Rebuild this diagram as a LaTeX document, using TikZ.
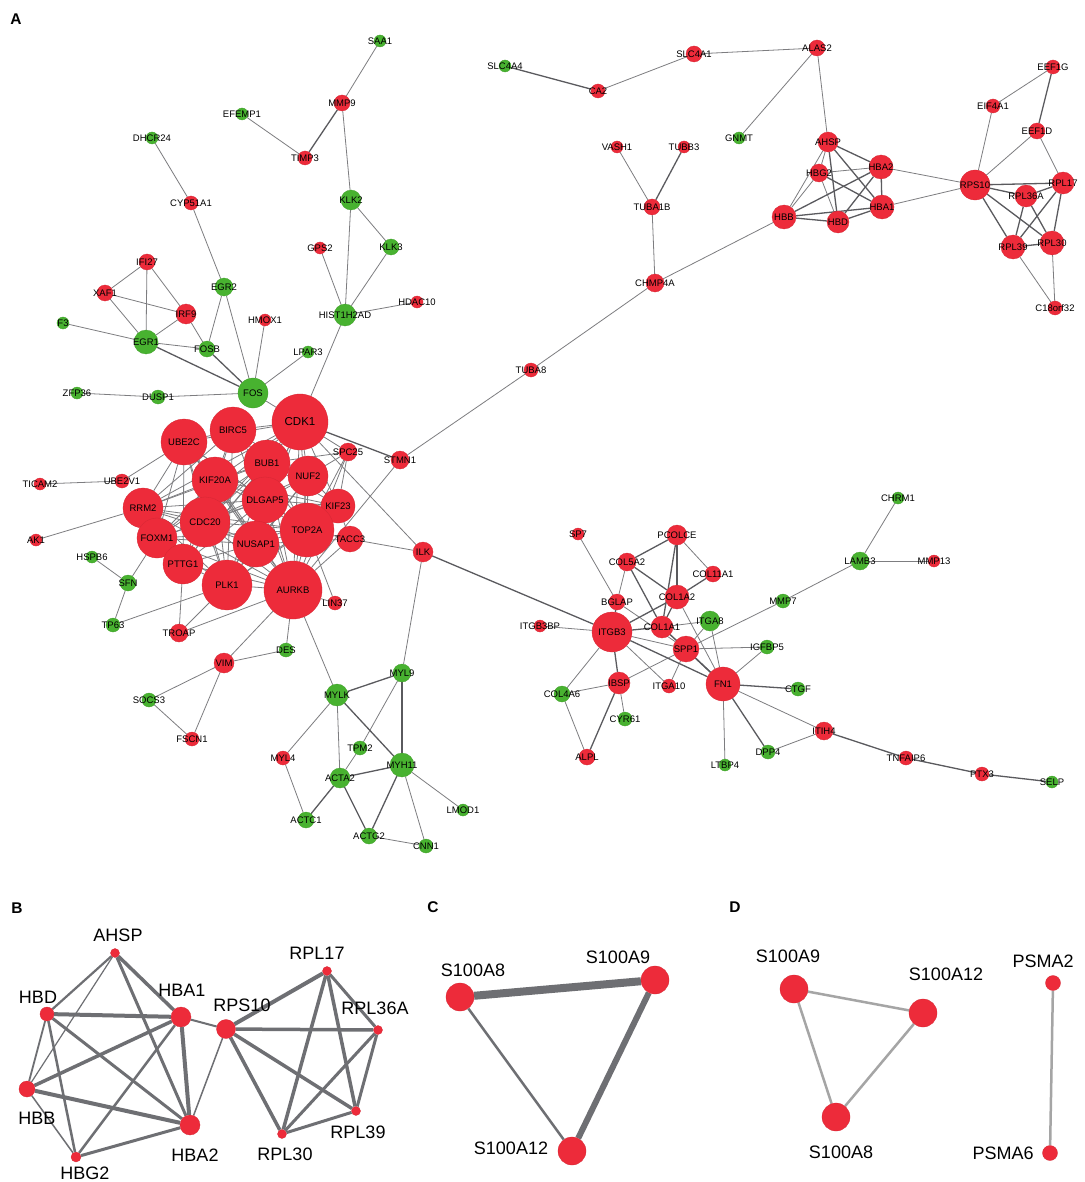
\documentclass[tikz,border=0pt]{standalone}
\usepackage{fontspec}
\setmainfont{Liberation Sans}
\usetikzlibrary{backgrounds}
\definecolor{upred}{RGB}{237,43,58}
\definecolor{dngreen}{RGB}{72,178,48}
\definecolor{edgegray}{RGB}{125,125,128}
\definecolor{edgedark}{RGB}{90,90,94}
\definecolor{bgray}{RGB}{110,111,115}
\definecolor{dgray}{RGB}{165,165,165}
% gene node: (name)(x,y)(radius)
\def\gup(#1)(#2)(#3){\node[upgene, minimum size=#3*2pt, label={[lbl]center:#1}] (#1) at (#2) {};}
\def\gdn(#1)(#2)(#3){\node[dngene, minimum size=#3*2pt, label={[lbl]center:#1}] (#1) at (#2) {};}

\begin{document}
\begin{tikzpicture}[x=1pt, y=-1pt,
  upgene/.style={circle, fill=upred, draw=upred!90!black, line width=0.3pt, inner sep=0pt},
  dngene/.style={circle, fill=dngreen, draw=dngreen!90!black, line width=0.3pt, inner sep=0pt},
  lbl/.style={font=\fontsize{9.5}{10}\selectfont, inner sep=0pt},
  biglbl/.style={font=\fontsize{18}{20}\selectfont, inner sep=0pt},
  panel/.style={font=\bfseries\fontsize{15.5}{16}\selectfont, inner sep=0pt},
  ppi/.style={draw=edgegray, line width=0.8pt},
  ppistrong/.style={draw=edgedark, line width=1.3pt},
  bedge/.style={draw=bgray},
  dedge/.style={draw=dgray, line width=2.5pt}]
\useasboundingbox (0,0) rectangle (1084,1182);

% panel letters
\node[panel] (pA) at (16,19) {A};
\node[panel] (pB) at (17,908) {B};
\node[panel] (pC) at (433,907) {C};
\node[panel] (pD) at (735,907) {D};

% ---- A: up-regulated genes
\gup(MMP9)(342,103)(8)
\gup(TIMP3)(305,158)(7)
\gup(CYP51A1)(191,203)(7)
\gup(GPS2)(320,248)(6)
\gup(IFI27)(147,262)(8)
\gup(XAF1)(105,293)(8)
\gup(IRF9)(186,314)(10)
\gup(HMOX1)(265,320)(6)
\gup(HDAC10)(417,302)(6)
\gup(CA2)(598,91)(7)
\gup(SLC4A1)(694,54)(8)
\gup(VASH1)(617,147)(6)
\gup(TUBB3)(684,147)(6)
\gup(TUBA1B)(652,207)(8)
\gup(CHMP4A)(655,283)(9)
\gup(ALAS2)(817,48)(8)
\gup(EEF1G)(1053,67)(7)
\gup(EIF4A1)(993,106)(7)
\gup(EEF1D)(1037,131)(8)
\gup(AHSP)(828,142)(10)
\gup(HBG2)(819,173)(9)
\gup(HBA2)(881,167)(12)
\gup(HBA1)(882,207)(12)
\gup(HBB)(784,217)(12)
\gup(HBD)(838,222)(11)
\gup(RPS10)(975,185)(15)
\gup(RPL17)(1063,183)(11)
\gup(RPL36A)(1026,196)(11)
\gup(RPL39)(1013,247)(12)
\gup(RPL30)(1052,243)(12)
\gup(C18orf32)(1055,308)(7)
\gup(TUBA8)(531,370)(7)
\gup(SPC25)(348,452)(9)
\gup(STMN1)(400,460)(9)
\gup(TICAM2)(40,484)(6)
\gup(UBE2V1)(122,481)(7)
\gup(AK1)(36,540)(6)
\gup(TACC3)(350,539)(13)
\gup(ILK)(423,552)(10)
\gup(LIN37)(335,603)(7)
\gup(TROAP)(179,633)(9)
\gup(VIM)(224,663)(10)
\gup(FSCN1)(192,739)(7)
\gup(MYL4)(283,758)(7)
\gup(KIF23)(338,506)(17)
\gup(NUF2)(308,476)(20)
\gup(RRM2)(143,508)(20)
\gup(FOXM1)(157,538)(20)
\gup(PTTG1)(183,564)(20)
\gup(UBE2C)(184,442)(23)
\gup(BIRC5)(233,430)(23)
\gup(KIF20A)(215,480)(23)
\gup(CDC20)(205,522)(25)
\gup(BUB1)(267,463)(23)
\node[upgene, minimum size=56pt, label={[lbl, font=\fontsize{11.5}{12}\selectfont]center:CDK1}] (CDK1) at (300,422) {};
\gup(DLGAP5)(265,500)(23)
\gup(TOP2A)(307,530)(27)
\gup(NUSAP1)(256,544)(23)
\gup(PLK1)(227,585)(25)
\gup(AURKB)(293,590)(29)
\gup(SP7)(578,534)(6)
\gup(PCOLCE)(677,535)(10)
\gup(MMP13)(934,561)(6)
\gup(COL5A2)(627,562)(9)
\gup(COL11A1)(713,574)(8)
\gup(COL1A2)(677,597)(12)
\gup(BGLAP)(617,602)(8)
\gup(ITGB3BP)(540,626)(6)
\gup(ITGB3)(612,632)(20)
\gup(COL1A1)(662,627)(11)
\gup(SPP1)(686,649)(13)
\gup(IBSP)(619,683)(11)
\gup(ITGA10)(669,686)(7)
\gup(FN1)(723,684)(17)
\gup(ITIH4)(824,731)(9)
\gup(ALPL)(587,757)(8)
\gup(TNFAIP6)(906,758)(7)
\gup(PTX3)(982,774)(7)

% ---- A: down-regulated genes
\gdn(SAA1)(380,41)(6)
\gdn(EFEMP1)(242,114)(6)
\gdn(DHCR24)(152,138)(6)
\gdn(KLK2)(351,200)(10)
\gdn(KLK3)(391,247)(8)
\gdn(EGR2)(224,287)(9)
\gdn(HIST1H2AD)(345,315)(11)
\gdn(F3)(63,323)(6)
\gdn(SLC4A4)(505,66)(6)
\gdn(GNMT)(739,138)(6)
\gdn(EGR1)(146,342)(12)
\gdn(FOSB)(207,349)(8)
\gdn(LPAR3)(308,352)(6)
\gdn(FOS)(253,393)(15)
\gdn(ZFP36)(77,393)(6)
\gdn(DUSP1)(158,397)(7)
\gdn(HSPB6)(92,557)(6)
\gdn(SFN)(128,583)(8)
\gdn(TP63)(113,625)(7)
\gdn(DES)(286,650)(7)
\gdn(MYL9)(402,673)(9)
\gdn(MYLK)(337,695)(11)
\gdn(SOCS3)(149,700)(7)
\gdn(TPM2)(360,748)(7)
\gdn(MYH11)(402,765)(12)
\gdn(ACTA2)(340,778)(10)
\gdn(LMOD1)(463,810)(6)
\gdn(ACTC1)(306,820)(8)
\gdn(ACTG2)(369,836)(8)
\gdn(CNN1)(426,846)(7)
\gdn(CHRM1)(898,498)(6)
\gdn(LAMB3)(860,561)(9)
\gdn(MMP7)(783,601)(7)
\gdn(ITGA8)(710,621)(10)
\gdn(IGFBP5)(767,647)(7)
\gdn(CTGF)(798,689)(7)
\gdn(COL4A6)(562,694)(8)
\gdn(CYR61)(625,719)(7)
\gdn(DPP4)(768,752)(7)
\gdn(LTBP4)(725,765)(6)
\gdn(SELP)(1052,782)(6)

% ---- B
\node[upgene, minimum size=9pt] (bAHSP) at (115,953) {};
\node[upgene, minimum size=14pt] (bHBD) at (47,1014) {};
\node[upgene, minimum size=20pt] (bHBA1) at (181,1017) {};
\node[upgene, minimum size=19pt] (bRPS10) at (226,1029) {};
\node[upgene, minimum size=9pt] (bRPL17) at (327,971) {};
\node[upgene, minimum size=9pt] (bRPL36A) at (378,1030) {};
\node[upgene, minimum size=16pt] (bHBB) at (27,1089) {};
\node[upgene, minimum size=20pt] (bHBA2) at (190,1125) {};
\node[upgene, minimum size=10pt] (bHBG2) at (76,1157) {};
\node[upgene, minimum size=9pt] (bRPL30) at (282,1134) {};
\node[upgene, minimum size=9pt] (bRPL39) at (356,1111) {};
\node[biglbl] (tAHSP) at (118,935) {AHSP};
\node[biglbl] (tHBD) at (38,997) {HBD};
\node[biglbl] (tHBA1) at (182,990) {HBA1};
\node[biglbl] (tRPS10) at (242,1005) {RPS10};
\node[biglbl] (tRPL17) at (317,953) {RPL17};
\node[biglbl] (tRPL36A) at (375,1008) {RPL36A};
\node[biglbl] (tHBB) at (37,1118) {HBB};
\node[biglbl] (tHBA2) at (195,1155) {HBA2};
\node[biglbl] (tHBG2) at (85,1173) {HBG2};
\node[biglbl] (tRPL30) at (285,1154) {RPL30};
\node[biglbl] (tRPL39) at (358,1132) {RPL39};

% ---- C
\node[upgene, minimum size=28pt] (cS100A8) at (460,997) {};
\node[upgene, minimum size=28pt] (cS100A9) at (655,980) {};
\node[upgene, minimum size=28pt] (cS100A12) at (572,1151) {};
\node[biglbl] (tcS100A8) at (473,970) {S100A8};
\node[biglbl] (tcS100A9) at (618,957) {S100A9};
\node[biglbl] (tcS100A12) at (511,1148) {S100A12};

% ---- D
\node[upgene, minimum size=28pt] (dS100A9) at (794,989) {};
\node[upgene, minimum size=28pt] (dS100A12) at (923,1013) {};
\node[upgene, minimum size=28pt] (dS100A8) at (836,1117) {};
\node[upgene, minimum size=15pt] (dPSMA2) at (1053,983) {};
\node[upgene, minimum size=15pt] (dPSMA6) at (1050,1153) {};
\node[biglbl] (tdS100A9) at (788,956) {S100A9};
\node[biglbl] (tdS100A12) at (946,974) {S100A12};
\node[biglbl] (tdS100A8) at (841,1152) {S100A8};
\node[biglbl] (tdPSMA2) at (1043,961) {PSMA2};
\node[biglbl] (tdPSMA6) at (1003,1153) {PSMA6};

\begin{scope}[on background layer]
\fill[white] (0,0) rectangle (1084,1182);
% A: interactions
\foreach \a/\b in {SAA1/MMP9, MMP9/KLK2, EFEMP1/TIMP3, DHCR24/CYP51A1, CYP51A1/EGR2,
  KLK2/KLK3, KLK2/HIST1H2AD, KLK3/HIST1H2AD, GPS2/HIST1H2AD, HDAC10/HIST1H2AD,
  HIST1H2AD/CDK1, IFI27/XAF1, IFI27/IRF9, IFI27/EGR1, XAF1/IRF9, XAF1/EGR1,
  IRF9/EGR1, IRF9/FOSB, F3/EGR1, EGR1/FOSB, EGR2/FOSB, EGR2/FOS, HMOX1/FOS,
  LPAR3/FOS, ZFP36/DUSP1, DUSP1/FOS, FOS/CDK1, UBE2V1/TICAM2, UBE2V1/UBE2C,
  AK1/RRM2, HSPB6/SFN, SFN/FOXM1, SFN/TP63, TP63/PLK1, TROAP/PTTG1, TROAP/PLK1,
  TROAP/AURKB, VIM/AURKB, VIM/DES, VIM/SOCS3, VIM/FSCN1, SOCS3/FSCN1, DES/AURKB,
  AURKB/MYLK, AURKB/LIN37, TOP2A/LIN37, AURKB/STMN1, TACC3/ILK, CDK1/ILK,
  ILK/MYL9, STMN1/TUBA8, TUBA8/CHMP4A, CHMP4A/TUBA1B, TUBA1B/VASH1, CHMP4A/HBB,
  CA2/SLC4A1, SLC4A1/ALAS2, ALAS2/GNMT, ALAS2/AHSP, HBA2/RPS10, HBA1/RPS10,
  RPS10/EIF4A1, RPS10/EEF1D, EIF4A1/EEF1G, EEF1D/RPL17, RPL39/C18orf32,
  RPL30/C18orf32, SP7/BGLAP, BGLAP/SPP1, COL5A2/BGLAP, PCOLCE/COL11A1,
  ITGB3BP/ITGB3, ITGB3/COL4A6, ITGB3/ITGA10, SPP1/ITGA10, SPP1/IBSP, SPP1/IGFBP5,
  IBSP/COL4A6, IBSP/CYR61, COL4A6/ALPL, FN1/IGFBP5, FN1/ITIH4, FN1/LTBP4,
  MMP7/LAMB3, LAMB3/CHRM1, LAMB3/MMP13, ITIH4/DPP4, SPP1/MMP7, COL1A2/FN1,
  COL1A1/ITGA8, ITGA8/SPP1, ITGA8/FN1, ITGB3/SPP1, COL1A1/SPP1,
  AHSP/HBG2, AHSP/HBB, HBG2/HBB, HBG2/HBD, HBG2/HBA2,
  MYL9/TPM2, MYLK/MYL4, MYLK/ACTA2, TPM2/ACTA2, MYL4/ACTC1, MYH11/CNN1,
  MYH11/LMOD1, ACTG2/CNN1}
  \draw[ppi] (\a) -- (\b);
\foreach \a/\b in {MMP9/TIMP3, SLC4A4/CA2, TUBA1B/TUBB3, EEF1G/EEF1D, EGR1/FOS,
  FOSB/FOS, CDK1/STMN1, ILK/ITGB3, MYL9/MYLK, MYL9/MYH11, MYLK/MYH11,
  ITIH4/TNFAIP6, TNFAIP6/PTX3, PTX3/SELP, COL1A2/ITGB3, ITGB3/IBSP, FN1/CTGF,
  FN1/DPP4, IBSP/ALPL, ITGB3/FN1, COL1A1/ITGB3, PCOLCE/COL5A2, PCOLCE/COL1A2,
  PCOLCE/COL1A1, COL5A2/COL1A2, COL5A2/COL1A1, COL11A1/COL1A2, COL1A2/COL1A1,
  BGLAP/ITGB3, SPP1/FN1, COL1A1/FN1, ACTA2/MYH11, ACTA2/ACTC1, ACTA2/ACTG2,
  MYH11/ACTG2,
  AHSP/HBA2, AHSP/HBA1, AHSP/HBD, HBG2/HBA1, HBA2/HBA1, HBA2/HBB, HBA2/HBD,
  HBA1/HBB, HBA1/HBD, HBB/HBD,
  RPS10/RPL17, RPS10/RPL36A, RPS10/RPL39, RPS10/RPL30, RPL17/RPL36A, RPL17/RPL39,
  RPL17/RPL30, RPL36A/RPL39, RPL36A/RPL30, RPL39/RPL30}
  \draw[ppistrong] (\a) -- (\b);
% A: mitotic core
\foreach \a/\b in {CDK1/BIRC5, CDK1/BUB1, CDK1/NUF2, CDK1/UBE2C, CDK1/KIF20A,
  CDK1/DLGAP5, CDK1/CDC20, CDK1/TOP2A, CDK1/NUSAP1, CDK1/PLK1, CDK1/AURKB,
  CDK1/RRM2, CDK1/FOXM1, CDK1/PTTG1, CDK1/KIF23, CDK1/SPC25,
  BIRC5/UBE2C, BIRC5/BUB1, BIRC5/KIF20A, BIRC5/CDC20, BIRC5/AURKB, BIRC5/PLK1,
  BIRC5/TOP2A, BIRC5/RRM2, BIRC5/NUF2,
  UBE2C/KIF20A, UBE2C/RRM2, UBE2C/CDC20, UBE2C/FOXM1, UBE2C/PTTG1, UBE2C/PLK1,
  UBE2C/AURKB, UBE2C/TOP2A, UBE2C/DLGAP5, UBE2C/NUSAP1,
  BUB1/NUF2, BUB1/DLGAP5, BUB1/CDC20, BUB1/KIF20A, BUB1/PLK1, BUB1/AURKB,
  BUB1/TOP2A, BUB1/SPC25, BUB1/KIF23, BUB1/NUSAP1, BUB1/RRM2, BUB1/FOXM1,
  BUB1/PTTG1,
  NUF2/DLGAP5, NUF2/KIF23, NUF2/SPC25, NUF2/TOP2A, NUF2/AURKB, NUF2/CDC20,
  NUF2/NUSAP1, NUF2/PLK1,
  KIF20A/CDC20, KIF20A/DLGAP5, KIF20A/RRM2, KIF20A/FOXM1, KIF20A/NUSAP1,
  KIF20A/PLK1, KIF20A/AURKB, KIF20A/TOP2A, KIF20A/KIF23, KIF20A/PTTG1,
  DLGAP5/CDC20, DLGAP5/TOP2A, DLGAP5/NUSAP1, DLGAP5/KIF23, DLGAP5/AURKB,
  DLGAP5/PLK1, DLGAP5/RRM2, DLGAP5/FOXM1, DLGAP5/PTTG1,
  KIF23/TOP2A, KIF23/AURKB, KIF23/TACC3, KIF23/PLK1, KIF23/NUSAP1,
  RRM2/CDC20, RRM2/FOXM1, RRM2/PTTG1, RRM2/NUSAP1, RRM2/TOP2A, RRM2/PLK1,
  RRM2/AURKB,
  CDC20/FOXM1, CDC20/PTTG1, CDC20/NUSAP1, CDC20/PLK1, CDC20/AURKB, CDC20/TOP2A,
  TOP2A/NUSAP1, TOP2A/AURKB, TOP2A/TACC3, TOP2A/PLK1, TOP2A/FOXM1, TOP2A/SPC25,
  FOXM1/PTTG1, FOXM1/PLK1, FOXM1/AURKB, FOXM1/NUSAP1,
  NUSAP1/PLK1, NUSAP1/AURKB, NUSAP1/PTTG1, PTTG1/PLK1, PTTG1/AURKB, PLK1/AURKB,
  AURKB/TACC3, AURKB/SPC25, SPC25/KIF23, TACC3/NUSAP1}
  \draw[ppi] (\a) -- (\b);

% B
\foreach \a/\b/\w in {AHSP/HBD/2.2, AHSP/HBB/1.2, AHSP/HBA1/3.5, AHSP/HBA2/3,
  HBD/HBA1/4, HBD/HBB/1.8, HBD/HBG2/2.5, HBD/HBA2/3, HBA1/HBB/3.5, HBA1/HBG2/2.5,
  HBA1/HBA2/4, HBA1/RPS10/2, HBB/HBA2/4, HBB/HBG2/1.5, HBG2/HBA2/3,
  RPS10/HBA2/1.5, RPS10/RPL17/4, RPS10/RPL36A/3.5, RPS10/RPL30/3.5,
  RPS10/RPL39/3.5, RPL17/RPL36A/3, RPL17/RPL30/3.5, RPL17/RPL39/3.5,
  RPL36A/RPL30/3, RPL36A/RPL39/3, RPL30/RPL39/3}
  \draw[bedge, line width=\w pt] (b\a) -- (b\b);

% C
\draw[bedge, line width=8pt] (cS100A8) -- (cS100A9);
\draw[bedge, line width=6pt] (cS100A9) -- (cS100A12);
\draw[bedge, line width=2.5pt] (cS100A8) -- (cS100A12);

% D
\draw[dedge] (dS100A9) -- (dS100A12);
\draw[dedge] (dS100A12) -- (dS100A8);
\draw[dedge] (dS100A8) -- (dS100A9);
\draw[dedge] (dPSMA2) -- (dPSMA6);
\end{scope}
\end{tikzpicture}
\end{document}
